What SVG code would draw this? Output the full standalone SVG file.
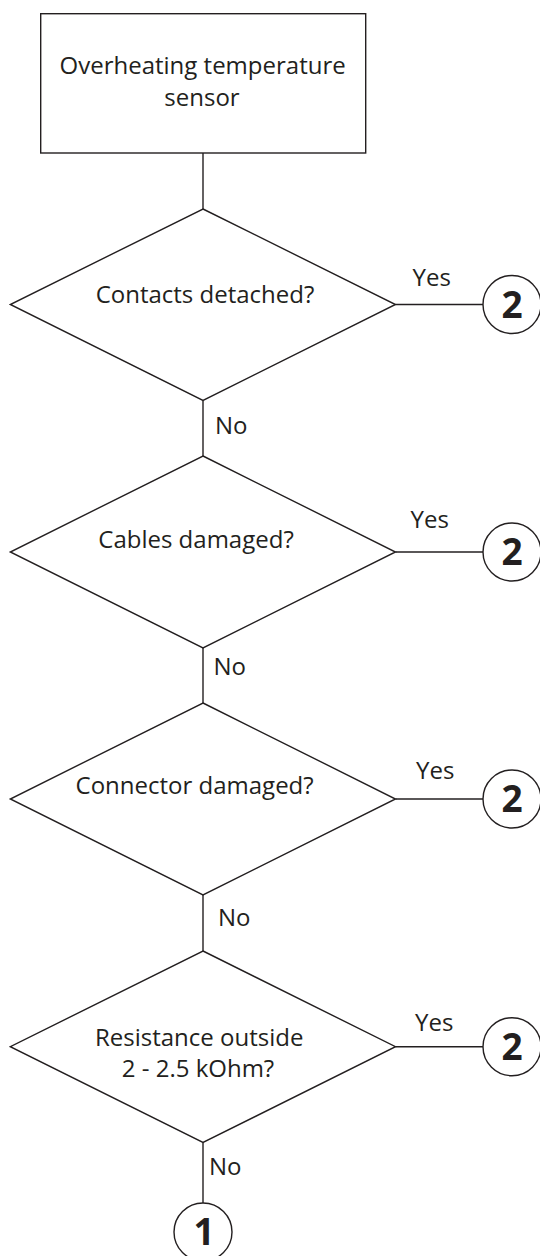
<svg xmlns="http://www.w3.org/2000/svg" width="540" height="1256" viewBox="0 0 540 1256">
  <style>
    .shape { fill: #ffffff; stroke: #231f20; stroke-width: 1.4; }
    .conn { fill: none; stroke: #231f20; stroke-width: 1.4; }
    .t { font-family: "Open Sans", "Liberation Sans", sans-serif; font-size: 24px; fill: #231f20; }
    .c { text-anchor: middle; }
    .num { font-family: "Open Sans", "Liberation Sans", sans-serif; font-size: 37px; font-weight: bold; fill: #231f20; text-anchor: middle; }
  </style>
  <rect width="540" height="1256" fill="#ffffff"/>

  <g id="connectors">
    <line class="conn" x1="203" y1="153" x2="203" y2="209"/>
    <line class="conn" x1="203" y1="400.5" x2="203" y2="456"/>
    <line class="conn" x1="203" y1="648" x2="203" y2="703"/>
    <line class="conn" x1="203" y1="895" x2="203" y2="951"/>
    <line class="conn" x1="203" y1="1142.5" x2="203" y2="1203"/>
    <line class="conn" x1="395.5" y1="304.5" x2="483" y2="304.5"/>
    <line class="conn" x1="395.5" y1="552" x2="483" y2="552"/>
    <line class="conn" x1="395.5" y1="799" x2="483" y2="799"/>
    <line class="conn" x1="395.5" y1="1046.7" x2="483" y2="1046.7"/>
    <text class="t" x="215" y="433.5">No</text>
    <text class="t" x="213.5" y="675">No</text>
    <text class="t" x="218" y="925.7">No</text>
    <text class="t" x="209" y="1175">No</text>
    <text class="t" x="412.5" y="285.7">Yes</text>
    <text class="t" x="410.5" y="528.3">Yes</text>
    <text class="t" x="416" y="779">Yes</text>
    <text class="t" x="415" y="1030.7">Yes</text>
  </g>

  <g id="start">
    <rect class="shape" x="40.7" y="13.7" width="325" height="139.3"/>
    <text class="t c" x="202.6" y="74">Overheating temperature</text>
    <text class="t c" x="202" y="106">sensor</text>
  </g>

  <g id="q-contacts">
    <polygon class="shape" points="203,209 395.5,304.5 203,400.5 10.3,304.5"/>
    <text class="t c" x="205" y="303.3">Contacts detached?</text>
  </g>

  <g id="q-cables">
    <polygon class="shape" points="203,456 395.5,552 203,648 10.3,552"/>
    <text class="t c" x="196" y="548.3">Cables damaged?</text>
  </g>

  <g id="q-connector">
    <polygon class="shape" points="203,703 395.5,799 203,895 10.3,799"/>
    <text class="t c" x="194.6" y="794">Connector damaged?</text>
  </g>

  <g id="q-resistance">
    <polygon class="shape" points="203,951 395.5,1046.7 203,1142.5 10.3,1046.7"/>
    <text class="t c" x="199.2" y="1046">Resistance outside</text>
    <text class="t c" x="198" y="1077.3">2 - 2.5 kOhm?</text>
  </g>

  <g id="goto2-a">
    <circle class="shape" cx="512" cy="304.5" r="29"/>
    <text class="num" x="512" y="317.8">2</text>
  </g>
  <g id="goto2-b">
    <circle class="shape" cx="512" cy="552" r="29"/>
    <text class="num" x="512" y="565.3">2</text>
  </g>
  <g id="goto2-c">
    <circle class="shape" cx="512" cy="799" r="29"/>
    <text class="num" x="512" y="812.3">2</text>
  </g>
  <g id="goto2-d">
    <circle class="shape" cx="512" cy="1046.7" r="29"/>
    <text class="num" x="512" y="1060">2</text>
  </g>

  <g id="goto1">
    <circle class="shape" cx="203" cy="1232" r="29"/>
    <text class="num" x="204" y="1244.5">1</text>
  </g>
</svg>
